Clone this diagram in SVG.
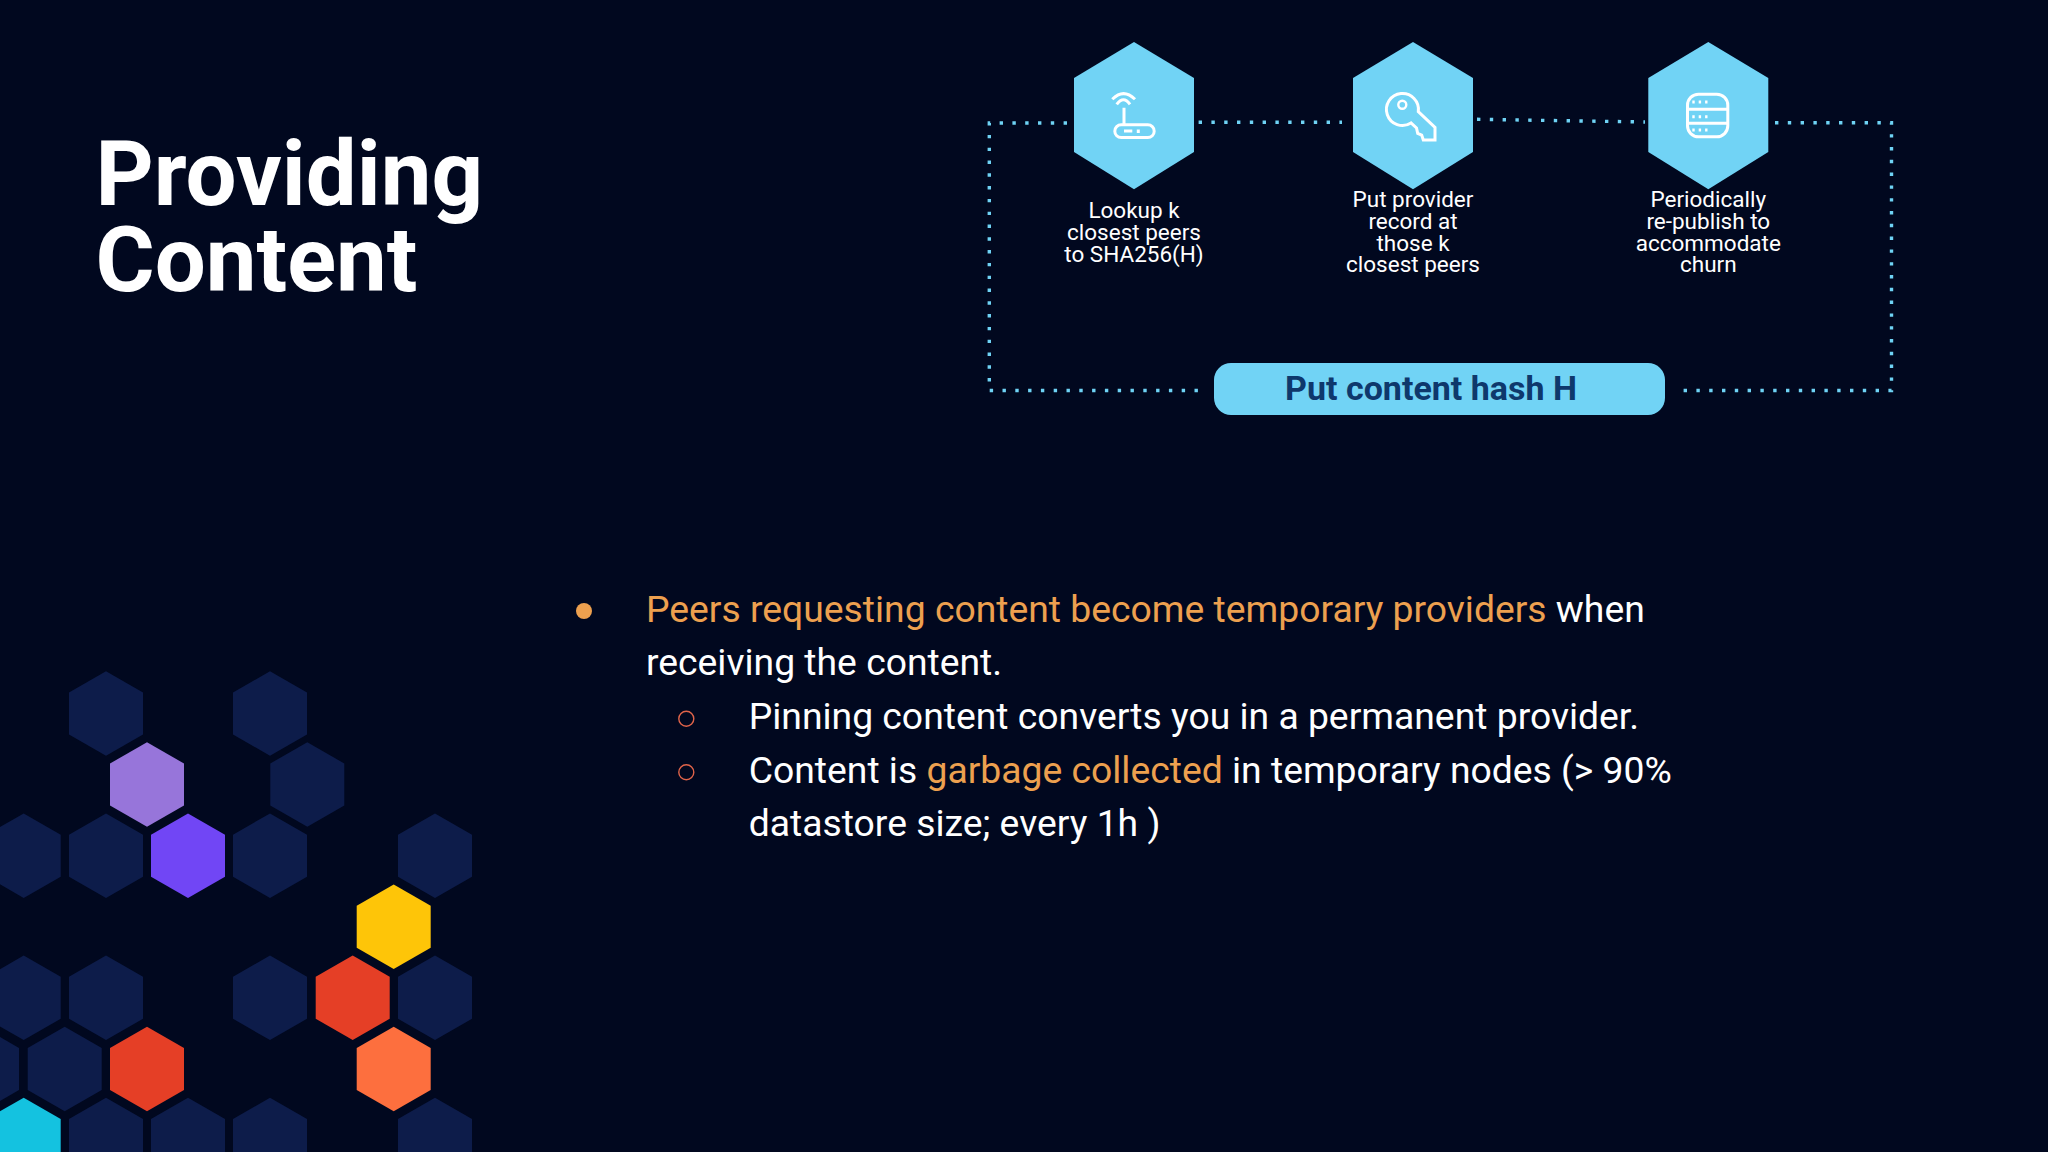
<svg xmlns="http://www.w3.org/2000/svg" width="2048" height="1152" viewBox="0 0 2048 1152">
<style>
text{font-family:Roboto,"Liberation Sans",sans-serif}
.title{font-size:90.5px;font-weight:700;fill:#fff}
.body{font-size:37.3px;fill:#fff}
.hl{fill:#eda04f}
.lbl{font-size:22.5px;font-weight:400;fill:#fff;text-anchor:middle}
.pill{font-size:34px;font-weight:700;fill:#0e386c;text-anchor:middle}
.d{fill:#0d1c4a}
.dot{fill:none;stroke:#6fd3f5;stroke-width:3.4;stroke-dasharray:3.4 9.4}
.icon{fill:none;stroke:#fff;stroke-width:3}
.hex{fill:#71d3f5}
</style>
<defs>
<polygon id="h" points="0,-42.3 37,-21 37,21 0,42.3 -37,21 -37,-21"/>
</defs>
<rect width="2048" height="1152" fill="#01081f"/>
<g id="hexfield">
<use href="#h" class="d" x="106" y="713.5"/><use href="#h" class="d" x="270" y="713.5"/>
<use href="#h" fill="#9775da" x="147" y="784.5"/><use href="#h" class="d" x="307.3" y="784.5"/>
<use href="#h" class="d" x="23.7" y="855.7"/><use href="#h" class="d" x="106" y="855.7"/><use href="#h" fill="#7146f5" x="188" y="855.7"/><use href="#h" class="d" x="270" y="855.7"/><use href="#h" class="d" x="435" y="855.7"/>
<use href="#h" fill="#fec508" x="393.7" y="926.7"/>
<use href="#h" class="d" x="23.7" y="997.8"/><use href="#h" class="d" x="106" y="997.8"/><use href="#h" class="d" x="270" y="997.8"/><use href="#h" fill="#e53f26" x="352.7" y="997.8"/><use href="#h" class="d" x="435" y="997.8"/>
<use href="#h" class="d" x="-18" y="1069"/><use href="#h" class="d" x="64.7" y="1069"/><use href="#h" fill="#e53f26" x="147" y="1069"/><use href="#h" fill="#fd6f3e" x="393.7" y="1069"/>
<use href="#h" fill="#14c2e0" x="23.7" y="1140"/><use href="#h" class="d" x="106" y="1140"/><use href="#h" class="d" x="188" y="1140"/><use href="#h" class="d" x="270" y="1140"/><use href="#h" class="d" x="435" y="1140"/>
</g>
<text class="title" x="95.5" y="205">Providing</text>
<text class="title" x="95.5" y="291">Content</text>
<g id="connectors">
<path class="dot" d="M1067 123H989.3V390.5H1200"/>
<path class="dot" d="M1198.6 122.3H1342"/>
<path class="dot" d="M1477 119.3L1645 122"/>
<path class="dot" d="M1775 122.7H1891.5V390.5H1681"/>
</g>
<g id="node-lookup">
<polygon class="hex" points="1134,42 1194,78 1194,152 1134,189.3 1074,152 1074,78"/>
<g class="icon">
<path d="M1112.3 99.3Q1123.5 88 1135 99.3M1116.7 104.3Q1123.5 95 1130 104.3M1124 107.7V124"/>
<rect x="1114.8" y="124.8" width="39.4" height="12.8" rx="6.4"/>
<path d="M1124 131H1132.3M1138.3 129.5V133"/>
</g>
<text class="lbl" x="1134" y="218.3">Lookup k</text>
<text class="lbl" x="1134" y="240">closest peers</text>
<text class="lbl" x="1134" y="261.7">to SHA256(H)</text>
</g>
<g id="node-put">
<polygon class="hex" points="1413,42 1473,78 1473,152 1413,189.3 1353,152 1353,78"/>
<g class="icon">
<path d="M1418.3 111.7L1435 127.3V140H1423.3L1421.7 135L1417.7 133.3L1416.5 128L1411 123A16 16 0 1 1 1418.3 111.7Z"/>
<circle cx="1402.3" cy="104.7" r="4" stroke-width="2.4"/>
</g>
<text class="lbl" x="1413" y="207.3">Put provider</text>
<text class="lbl" x="1413" y="229">record at</text>
<text class="lbl" x="1413" y="250.6">those k</text>
<text class="lbl" x="1413" y="272.3">closest peers</text>
</g>
<g id="node-republish">
<polygon class="hex" points="1708.3,42 1768.3,78 1768.3,152 1708.3,189.3 1648.3,152 1648.3,78"/>
<g class="icon">
<rect x="1687.5" y="94.2" width="40.3" height="42.6" rx="11"/>
<path d="M1687.5 109.3H1727.8M1687.5 123.3H1727.8"/>
<path d="M1692.3 102H1707.5M1692.3 116.7H1707.5M1692.3 130H1707.5" stroke-width="3" stroke-dasharray="2.4 4"/>
</g>
<text class="lbl" x="1708.3" y="207.3">Periodically</text>
<text class="lbl" x="1708.3" y="229">re-publish to</text>
<text class="lbl" x="1708.3" y="250.6">accommodate</text>
<text class="lbl" x="1708.3" y="272.3">churn</text>
</g>
<g id="node-hash">
<rect x="1214" y="363" width="451" height="52" rx="17" class="hex"/>
<text class="pill" x="1431" y="399.5">Put content hash H</text>
</g>
<g id="bullets">
<circle cx="584" cy="611" r="8" fill="#eda04f"/>
<text class="body" x="646" y="621.7"><tspan class="hl">Peers requesting content become temporary providers</tspan> when</text>
<text class="body" x="646" y="675.3">receiving the content.</text>
<circle cx="686.3" cy="718.7" r="7.5" fill="none" stroke="#e0644a" stroke-width="1.4"/>
<text class="body" x="748.7" y="729">Pinning content converts you in a permanent provider.</text>
<circle cx="686.3" cy="772.3" r="7.5" fill="none" stroke="#e0644a" stroke-width="1.4"/>
<text class="body" x="748.7" y="782.7">Content is <tspan class="hl">garbage collected</tspan> in temporary nodes (&gt; 90%</text>
<text class="body" x="748.7" y="836">datastore size; every 1h )</text>
</g>
</svg>
